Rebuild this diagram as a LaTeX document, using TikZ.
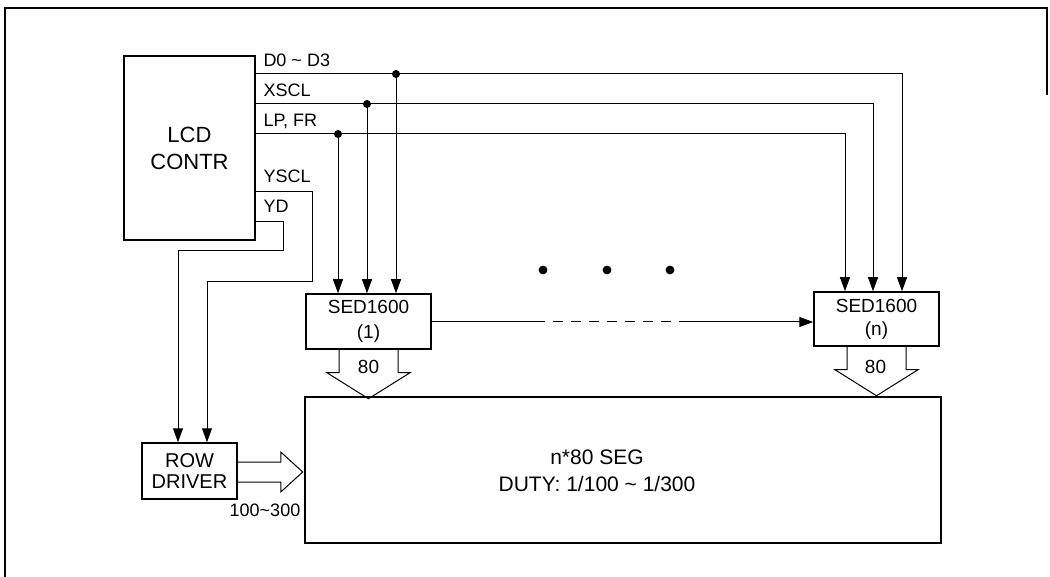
\documentclass[tikz,border=0pt]{standalone}
\usepackage{fontspec}
\setmainfont{Liberation Sans}
\usetikzlibrary{arrows.meta}

\begin{document}
\begin{tikzpicture}[x=0.5pt, y=-0.5pt, >={Triangle[length=7pt, width=5pt]}, line width=0.5pt,
	box/.style={draw, line width=0.75pt, inner sep=0pt, align=center},
	sig/.style={anchor=base west, inner sep=0pt, font=\fontsize{9}{10}\selectfont},
	num/.style={inner sep=0pt, font=\fontsize{9.5}{11}\selectfont}]
	\useasboundingbox (0,0) rectangle (1050,577);
	
	% 外框
	\draw[line width=0.75pt] (5,577) -- (5,8) -- (1047,8) -- (1047,95);
	
	% 方框
	\node[box, minimum width=65.5pt, minimum height=92pt, font=\fontsize{11}{13.5}\selectfont] (lcd) at (189.5,148) {LCD\\CONTR};
	\node[box, minimum width=62.5pt, minimum height=27.5pt, font=\fontsize{9.5}{12.5}\selectfont] (sed1) at (368.5,321.5) {SED1600\\(1)};
	\node[box, minimum width=62.5pt, minimum height=27pt, font=\fontsize{9.5}{11.5}\selectfont] (sedn) at (876.5,319) {SED1600\\(n)};
	\node[box, minimum width=47.5pt, minimum height=28pt, font=\fontsize{10}{10.5}\selectfont] (row) at (189.5,471) {ROW\\DRIVER};
	\node[box, minimum width=318pt, minimum height=73pt] (panel) at (623,470) {};
	\node[align=center, inner sep=0pt, font=\fontsize{10.5}{13.5}\selectfont] (seg) at (597,471) {n*80 SEG\\DUTY: 1/100 \textasciitilde{} 1/300};
	
	% 信号名
	\node[sig] (ld) at (263,67) {D0 \textasciitilde{} D3};
	\node[sig] (lx) at (263,97) {XSCL};
	\node[sig] (ll) at (263,127) {LP, FR};
	\node[sig] (ly) at (263,183) {YSCL};
	\node[sig] (lyd) at (263,213) {YD};
	
	% 总线
	\draw[->] (lcd.east |- 0,74) -| (sedn.north -| 902,0);
	\draw[->] (lcd.east |- 0,104) -| (sedn.north -| 873,0);
	\draw[->] (lcd.east |- 0,134) -| (sedn.north -| 845,0);
	\foreach \name/\x/\y in {td/396/74, tx/367/104, tl/338/134} {
		\coordinate (\name) at (\x,\y);
		\fill (\name) circle (2pt);
		\draw[->] (\name) -- (sed1.north -| \name);
	}
	
	% YSCL, YD
	\draw[->] (lcd.east |- 0,192) -| (312,282) -| (row.north -| 207,0);
	\draw[->] (lcd.east |- 0,222) -| (283,251) -| (row.north -| 178,0);
	
	% 级联
	\coordinate (m1) at (535,322);
	\coordinate (m2) at (685,322);
	\draw (sed1.east |- m1) -- (m1);
	\draw[dashed, dash pattern=on 5pt off 4pt] (m1) -- (m2);
	\draw[->] (m2) -- (sedn.west |- m2);
	
	% 省略
	\foreach \x in {543,607,670}
		\fill (\x,270) circle (2.2pt);
	
	% 宽箭头
	\draw (sed1.south) ++(-29.5,0) -- ++(0,23) -- ++(-12,0) -- ++(41.5,26) -- ++(41.5,-26) -- ++(-12,0) -- ++(0,-23);
	\draw (sedn.south) ++(-29.5,0) -- ++(0,23) -- ++(-12,0) -- ++(41.5,26) -- ++(41.5,-26) -- ++(-12,0) -- ++(0,-23);
	\draw (row.east) ++(0,-9) -- ++(43,0) -- ++(0,-10) -- ++(22,20) -- ++(-22,20) -- ++(0,-10) -- ++(-43,0);
	\node[num] (w1) at (368.5,367) {80};
	\node[num] (wn) at (875.5,367) {80};
	\node[num, font=\fontsize{9}{10}\selectfont] (wr) at (265,510) {100\textasciitilde300};
\end{tikzpicture}
\end{document}
